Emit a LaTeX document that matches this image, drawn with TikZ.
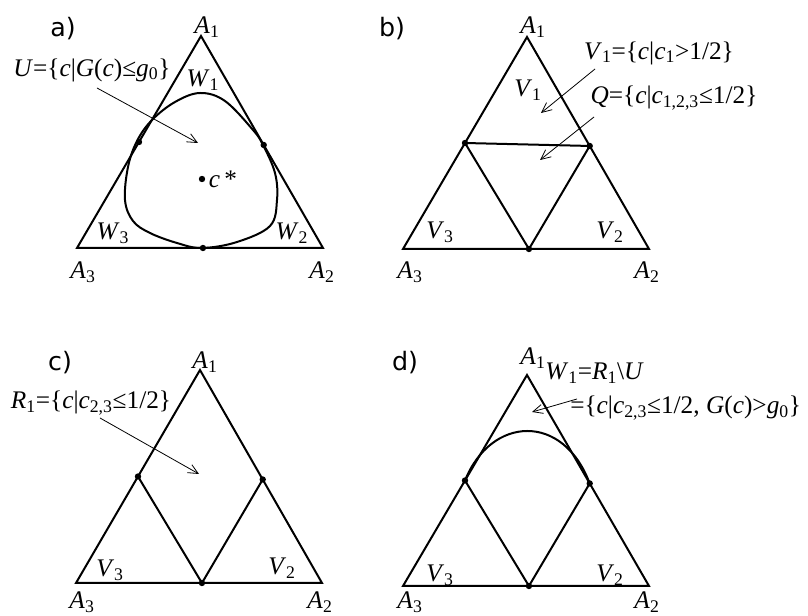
\documentclass[tikz,border=0pt]{standalone}
\usepackage{fontspec}
\setmainfont{Liberation Serif}
\newfontfamily\panelfont{DejaVu Sans}
\usetikzlibrary{arrows.meta,calc}
\newcommand\mvar[1]{\textit{#1}}
\newcommand\msub[1]{\textsubscript{#1}}
\tikzset{
  side/.style={line width=1.5pt, line join=miter},
  rim/.style={line width=1.5pt},
  pointer/.style={line width=0.6pt, -{Straight Barb[length=2.6mm, width=2.4mm]}},
  vertex/.style={fill=black},
  tag/.style={font=\fontsize{19}{21}\selectfont, inner sep=0pt},
  panel/.style={font=\panelfont\fontsize{19}{21}\selectfont, inner sep=0pt}
}
\begin{document}
\begin{tikzpicture}[x=0.75pt,y=-0.75pt]
\useasboundingbox (0,0) rectangle (808,616);

% --- a) ---
\begin{scope}[shift={(77,248)}]
  \coordinate (a-A3) at (0,0);
  \coordinate (a-A2) at (246,0);
  \coordinate (a-A1) at (124,-212);
  \coordinate (a-m13) at ($(a-A3)!0.5!(a-A1)$);
  \coordinate (a-m12) at ($(a-A2)!0.486!(a-A1)$);
  \coordinate (a-m23) at ($(a-A3)!0.512!(a-A2)$);
  \coordinate (a-c) at (125,-69);
  \draw[side] (a-A3) -- (a-A2) -- (a-A1) -- cycle;
  \draw[rim] plot[smooth cycle, tension=0.6] coordinates {
    (125,0) (100,-5) (73,-15) (56,-27) (48,-48) (51,-81) (60,-107)
    (75,-128) (98,-146) (123,-155) (148,-147) (176,-118) (186,-103)
    (198,-75) (200,-48) (193,-22) (160,-6)};
  \foreach \p in {a-m13,a-m12,a-m23,a-c} \fill[vertex] (\p) circle (2.4pt);
  \node[panel] (a-title) at (-14,-219) {a)};
  \node[tag] (a-l1) at (130,-221) {\mvar{A}\msub{1}};
  \node[tag] (a-l2) at (245,24) {\mvar{A}\msub{2}};
  \node[tag] (a-l3) at (6,24) {\mvar{A}\msub{3}};
  \node[tag] (a-w1) at (126,-168) {\mvar{W}\msub{1}};
  \node[tag] (a-w2) at (215,-15) {\mvar{W}\msub{2}};
  \node[tag] (a-w3) at (36,-15) {\mvar{W}\msub{3}};
  \node[tag] (a-cs) at (146,-69) {\mvar{c}\,*};
  \node[tag] (a-U) at (15,-178) {\mvar{U}=\{\mvar{c}|\mvar{G}(\mvar{c})≤\mvar{g}\msub{0}\}};
  \coordinate (a-from) at (20,-160);
  \coordinate (a-to) at (121,-105);
  \draw[pointer] (a-from) -- (a-to);
\end{scope}

% --- b) ---
\begin{scope}[shift={(403,249)}]
  \coordinate (b-A3) at (0,0);
  \coordinate (b-A2) at (246,0);
  \coordinate (b-A1) at (124,-212);
  \coordinate (b-m13) at ($(b-A3)!0.5!(b-A1)$);
  \coordinate (b-m12) at ($(b-A2)!0.486!(b-A1)$);
  \coordinate (b-m23) at ($(b-A3)!0.512!(b-A2)$);
  \draw[side] (b-A3) -- (b-A2) -- (b-A1) -- cycle;
  \draw[side] (b-m13) -- (b-m12) -- (b-m23) -- cycle;
  \foreach \p in {b-m13,b-m12,b-m23} \fill[vertex] (\p) circle (2.4pt);
  \node[panel] (b-title) at (-11,-220) {b)};
  \node[tag] (b-l1) at (130,-222) {\mvar{A}\msub{1}};
  \node[tag] (b-l2) at (244,23) {\mvar{A}\msub{2}};
  \node[tag] (b-l3) at (7,23) {\mvar{A}\msub{3}};
  \node[tag] (b-v1) at (125,-159) {\mvar{V}\msub{1}};
  \node[tag] (b-v2) at (207,-17) {\mvar{V}\msub{2}};
  \node[tag] (b-v3) at (37,-17) {\mvar{V}\msub{3}};
  \node[tag] (b-V) at (256,-196) {\mvar{V}\msub{1}=\{\mvar{c}|\mvar{c}\msub{1}>1/2\}};
  \node[tag] (b-Q) at (271,-151) {\mvar{Q}=\{\mvar{c}|\mvar{c}\msub{1,2,3}≤1/2\}};
  \coordinate (b-vfrom) at (192,-180);
  \coordinate (b-vto) at (138,-136);
  \coordinate (b-qfrom) at (191,-132);
  \coordinate (b-qto) at (137,-89);
  \draw[pointer] (b-vfrom) -- (b-vto);
  \draw[pointer] (b-qfrom) -- (b-qto);
\end{scope}

% --- c) ---
\begin{scope}[shift={(76,583)}]
  \coordinate (c-A3) at (0,0);
  \coordinate (c-A2) at (246,0);
  \coordinate (c-A1) at (124,-213);
  \coordinate (c-m13) at ($(c-A3)!0.5!(c-A1)$);
  \coordinate (c-m12) at ($(c-A2)!0.486!(c-A1)$);
  \coordinate (c-m23) at ($(c-A3)!0.512!(c-A2)$);
  \draw[side] (c-A3) -- (c-A2) -- (c-A1) -- cycle;
  \draw[side] (c-m13) -- (c-m23) -- (c-m12);
  \foreach \p in {c-m13,c-m12,c-m23} \fill[vertex] (\p) circle (2.4pt);
  \node[panel] (c-title) at (-16,-220) {c)};
  \node[tag] (c-l1) at (129,-221) {\mvar{A}\msub{1}};
  \node[tag] (c-l2) at (244,19) {\mvar{A}\msub{2}};
  \node[tag] (c-l3) at (6,19) {\mvar{A}\msub{3}};
  \node[tag] (c-v2) at (206,-15) {\mvar{V}\msub{2}};
  \node[tag] (c-v3) at (34,-13) {\mvar{V}\msub{3}};
  \node[tag] (c-R) at (15,-180) {\mvar{R}\msub{1}=\{\mvar{c}|\mvar{c}\msub{2,3}≤1/2\}};
  \coordinate (c-from) at (24,-165);
  \coordinate (c-to) at (123,-109);
  \draw[pointer] (c-from) -- (c-to);
\end{scope}

% --- d) ---
\begin{scope}[shift={(403,586)}]
  \coordinate (d-A3) at (0,0);
  \coordinate (d-A2) at (246,0);
  \coordinate (d-A1) at (124,-211);
  \coordinate (d-m13) at ($(d-A3)!0.5!(d-A1)$);
  \coordinate (d-m12) at ($(d-A2)!0.486!(d-A1)$);
  \coordinate (d-m23) at ($(d-A3)!0.512!(d-A2)$);
  \draw[side] (d-A3) -- (d-A2) -- (d-A1) -- cycle;
  \draw[side] (d-m13) -- (d-m23) -- (d-m12);
  \draw[rim] (d-m13) .. controls (88,-170) and (160,-174) .. (d-m12);
  \foreach \p in {d-m13,d-m12,d-m23} \fill[vertex] (\p) circle (2.4pt);
  \node[panel] (d-title) at (2,-223) {d)};
  \node[tag] (d-l1) at (130,-228) {\mvar{A}\msub{1}};
  \node[tag] (d-l2) at (244,16) {\mvar{A}\msub{2}};
  \node[tag] (d-l3) at (7,16) {\mvar{A}\msub{3}};
  \node[tag] (d-v2) at (207,-11) {\mvar{V}\msub{2}};
  \node[tag] (d-v3) at (37,-11) {\mvar{V}\msub{3}};
  \node[tag, anchor=west] (d-W) at (142,-213) {\mvar{W}\msub{1}=\mvar{R}\msub{1}\textbackslash\mvar{U}};
  \node[tag, anchor=west] (d-Wset) at (167,-178) {=\{\mvar{c}|\mvar{c}\msub{2,3}≤1/2, \mvar{G}(\mvar{c})>\mvar{g}\msub{0}\}};
  \coordinate (d-from) at (174,-187);
  \coordinate (d-to) at (129,-174);
  \draw[pointer] (d-from) -- (d-to);
\end{scope}

\end{tikzpicture}
\end{document}
